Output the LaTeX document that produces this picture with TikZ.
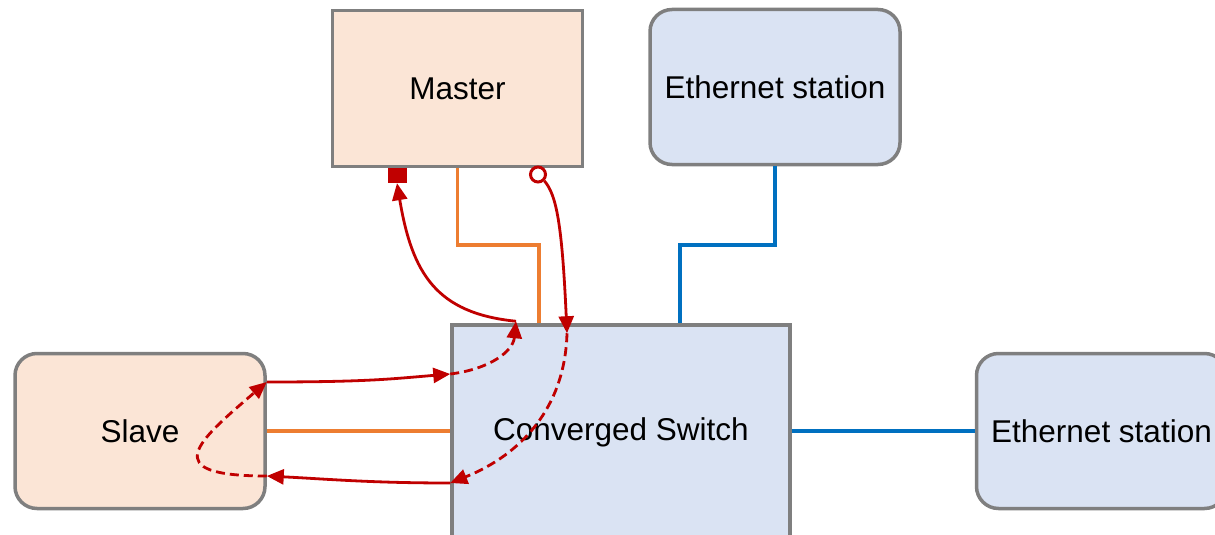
\documentclass[tikz,border=0pt]{standalone}
\usepackage{fontspec}
\setmainfont{Liberation Sans}
\usetikzlibrary{arrows.meta,calc,positioning}
\definecolor{frame}{HTML}{7F7F7F}
\definecolor{peach}{HTML}{FBE5D6}
\definecolor{paleblue}{HTML}{DAE3F3}
\definecolor{wireorange}{HTML}{ED7D31}
\definecolor{wireblue}{HTML}{0070C0}
\definecolor{ptpred}{HTML}{C00000}
\tikzset{
  basebox/.style={draw=frame,line width=3.5pt,align=center,inner sep=0pt,font=\fontsize{31.5}{38}\selectfont},
  clockbox/.style={basebox,fill=peach,minimum width=250pt,minimum height=156pt},
  stationbox/.style={basebox,fill=paleblue,rounded corners=22pt,minimum width=250pt,minimum height=155pt},
  switchbox/.style={basebox,fill=paleblue,minimum width=338pt,minimum height=215pt},
  wire/.style={line width=3.2pt},
  msgline/.style={draw=ptpred,line width=2.8pt,-{Triangle[length=17pt,width=15pt]}},
  msgdash/.style={msgline,dash pattern=on 9pt off 5pt}
}
\begin{document}
\begin{tikzpicture}[
    x=1pt,y=-1pt,
    sqmark/.style={fill=ptpred,inner sep=0pt,minimum width=19pt,minimum height=16pt},
    circmark/.style={circle,draw=ptpred,fill=white,line width=3pt,inner sep=0pt,minimum size=15pt}
  ]
    \useasboundingbox (0,0) rectangle (1215,535);
    \clip (0,0) rectangle (1215,535);

    \node[sqmark] (sync) at (397,175) {};
    \node[clockbox] (master) at (457.5,88.5) {Master};
    \node[stationbox] (station1) at (775,87) {Ethernet station};
    \node[clockbox,rounded corners=22pt,minimum height=155pt] (slave) at (140,431) {Slave};
    \node[switchbox] (switch) at (621,432.5) {Converged Switch};
    \node[stationbox] (station2) at (1101.5,431) {Ethernet station};
    \node[circmark] (delay) at (538,174.5) {};

    \draw[wire,draw=wireorange] (master.south) |- (539,245) coordinate (o1) -- (o1 |- switch.north);
    \draw[wire,draw=wireorange] (slave.east) -- (slave.east -| switch.west);
    \draw[wire,draw=wireblue] (station1.south) |- (680,245) coordinate (b1) -- (b1 |- switch.north);
    \draw[wire,draw=wireblue] (switch.east |- station2.west) -- (station2.west);

    \coordinate (swTop1) at ($(switch.north)+(-105,-2)$);
    \coordinate (swTop2) at ($(switch.north)+(-54,10)$);
    \coordinate (swLeft1) at ($(switch.west)+(0,-58.5)$);
    \coordinate (swLeft2) at ($(switch.west)+(0,50.5)$);
    \coordinate (slvRight1) at ($(slave.east)+(0,-49)$);
    \coordinate (slvRight2) at ($(slave.east)+(0,45)$);

    \draw[msgline] (delay.-45) .. controls +(12,14) and +(-5,-110) .. (swTop2);
    \draw[msgdash] (swTop2) .. controls +(-2,75) and +(70,-28) .. (swLeft2);
    \draw[msgline] (swLeft2) .. controls +(-80,0) and +(60,3) .. (slvRight2);
    \draw[msgdash] (slvRight2) .. controls +(-110,0) and +(-70,60) .. (slvRight1);
    \draw[msgline] (slvRight1) .. controls +(100,0) and +(-60,5) .. (swLeft1);
    \draw[msgdash] (swLeft1) .. controls +(40,-5) and +(-3,30) .. (swTop1);
    \draw[msgline] (swTop1) .. controls +(-80,-8) and +(15,90) .. (sync.south);
\end{tikzpicture}
\end{document}
